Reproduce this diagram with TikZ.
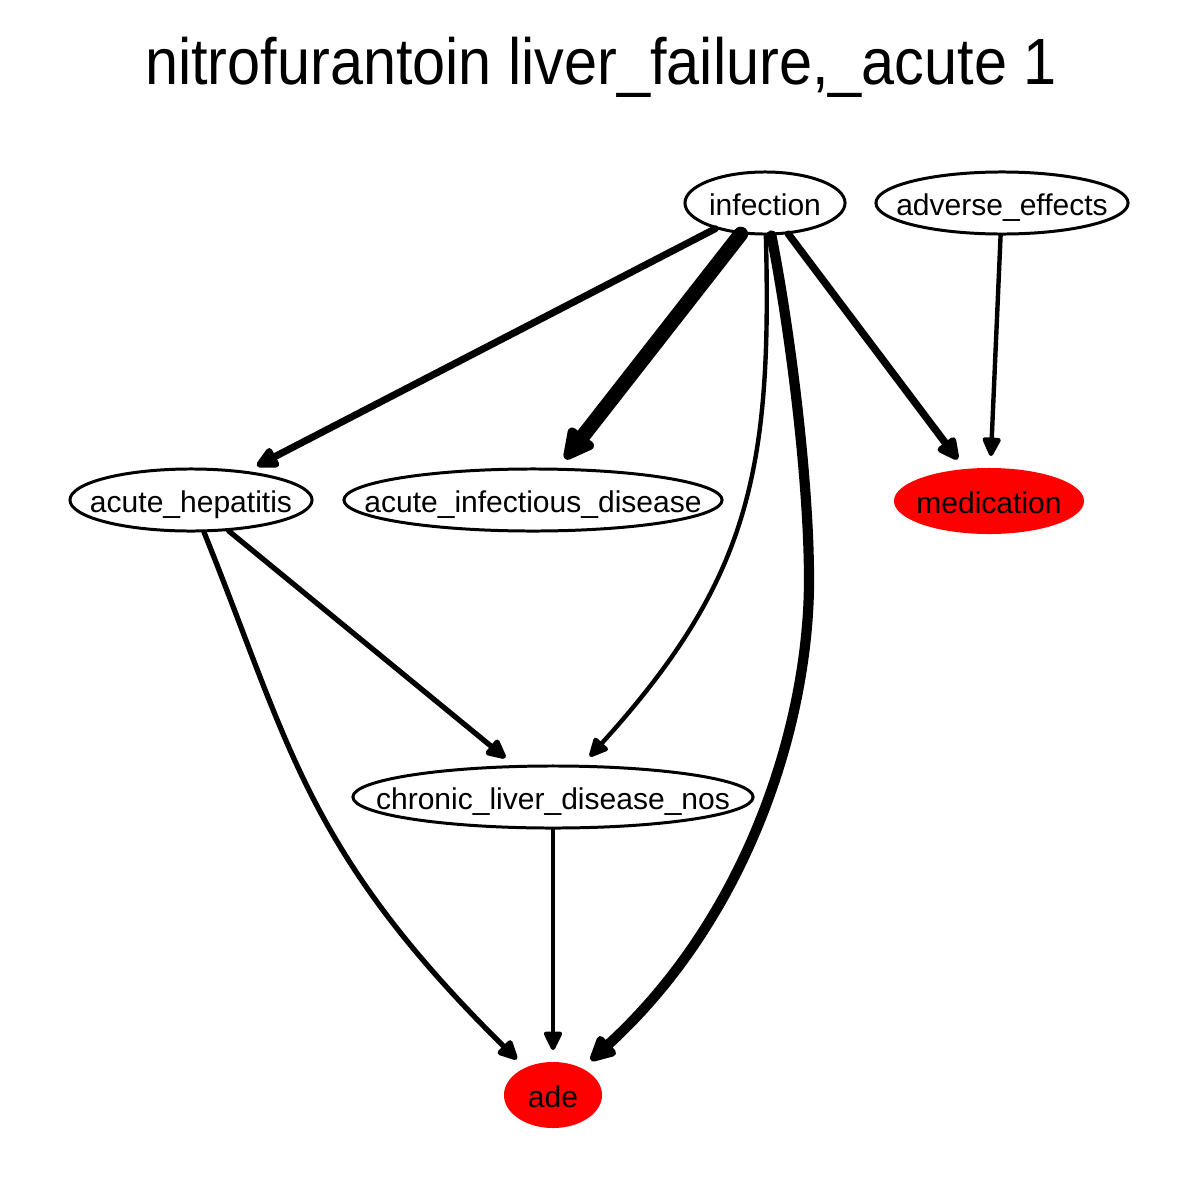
\documentclass[tikz,border=0pt]{standalone}
\usepackage{fontspec}
\setmainfont{Liberation Sans}
\usetikzlibrary{shapes.geometric,arrows.meta}
\begin{document}
\begin{tikzpicture}[x=0.01cm,y=-0.01cm]
        \tikzstyle{term}=[ellipse,draw=black,line width=0.85pt,inner sep=0pt,text height=7.1pt,text depth=0pt,font=\fontsize{8.54pt}{10pt}\selectfont]
        \tikzstyle{outcome}=[ellipse,fill=red,inner sep=0pt,text height=7.1pt,text depth=0pt,font=\fontsize{8.54pt}{10pt}\selectfont]
        \tikzstyle{link}=[draw,line cap=round,-{Triangle[length=4.4pt 1.4,width=3.8pt 1.4,round]},shorten >=3.2pt]
        \useasboundingbox (0,0) rectangle (1200,1200);
        \node[anchor=base,font=\fontsize{16.9pt}{20pt}\selectfont] (title) at (601,84) {\scalebox{1}[1.1]{nitrofurantoin liver\_failure,\_acute 1}};
        \begin{scope}
            \node [term,minimum width=1.60cm,minimum height=0.62cm] (infection) at (765,203) {\makebox[0pt]{infection}};
            \node [term,minimum width=2.52cm,minimum height=0.62cm] (adverse_effects) at (1002,203) {\makebox[0pt]{adverse\_effects}};
            \node [term,minimum width=2.42cm,minimum height=0.62cm] (acute_hepatitis) at (191,500) {\makebox[0pt]{acute\_hepatitis}};
            \node [term,minimum width=3.78cm,minimum height=0.62cm] (acute_infectious_disease) at (533,500) {\makebox[0pt]{acute\_infectious\_disease}};
            \node [outcome,minimum width=1.90cm,minimum height=0.66cm] (medication) at (989,501) {\makebox[0pt]{medication}};
            \node [term,minimum width=4.00cm,minimum height=0.62cm] (chronic_liver_disease_nos) at (553,797) {\makebox[0pt]{chronic\_liver\_disease\_nos}};
            \node [outcome,minimum width=0.98cm,minimum height=0.66cm] (ade) at (553,1095) {\makebox[0pt]{ade}};
            \path[link,line width=2pt] (infection) -- (acute_hepatitis);
            \path[link,line width=4.2pt] (infection) -- (acute_infectious_disease);
            \path[link,line width=1.25pt] (infection) .. controls (772,470) and (750,580) .. (chronic_liver_disease_nos);
            \path[link,line width=2.9pt] (infection) .. controls (790,330) and (809,480) .. (809,580) .. controls (809,720) and (750,915) .. (ade);
            \path[link,line width=2.1pt] (infection) -- (medication);
            \path[link,line width=1.25pt] (adverse_effects) -- (medication);
            \path[link,line width=1.5pt] (acute_hepatitis) -- (chronic_liver_disease_nos);
            \path[link,line width=1.5pt] (acute_hepatitis) .. controls (290,745) and (305,850) .. (ade);
            \path[link,line width=1.25pt] (chronic_liver_disease_nos) -- (ade);
        \end{scope}
\end{tikzpicture}
\end{document}
